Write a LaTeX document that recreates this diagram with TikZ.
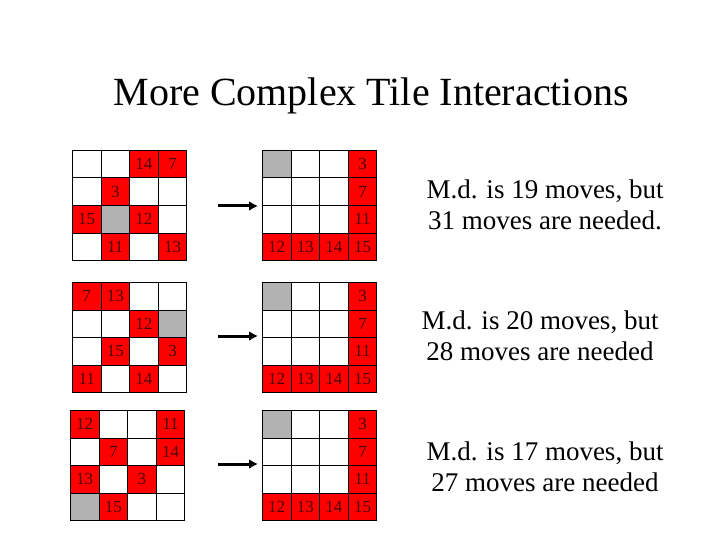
\documentclass[tikz,border=0pt]{standalone}
\usepackage{fontspec}
\setmainfont{Liberation Serif}
\begin{document}
\begin{tikzpicture}[x=1pt,y=-1pt,
  cell/.style={draw=black,line width=0.8pt,minimum width=28.6pt,minimum height=27.5pt,inner sep=0pt,anchor=north west,font=\fontsize{17}{17}\selectfont,text=black!70!red},
  rc/.style={cell,fill=red},
  gc/.style={cell,fill=black!30},
  wc/.style={cell,fill=white},
  arr/.style={line width=3pt,-{Latex[length=9pt,width=10pt]}},
  lbl/.style={font=\fontsize{27}{31}\selectfont,align=center}]
\usetikzlibrary{arrows.meta}
\useasboundingbox (0,0) rectangle (720,540);
\node[font=\fontsize{40}{40}\selectfont] (title) at (371,96) {More Complex Tile Interactions};
% grid macro via foreach: list of col/row/style/label
\newcommand{\mygrid}[4]{%
  \foreach \c/\r/\s/\t in {#4}{%
    \node[\s] (#1-\c-\r) at ({#2+\c*28.6},{#3+\r*27.5}) {\t};}}
\newcommand{\goalgrid}[3]{\mygrid{#1}{#2}{#3}{0/0/gc/,1/0/wc/,2/0/wc/,3/0/rc/3,0/1/wc/,1/1/wc/,2/1/wc/,3/1/rc/7,0/2/wc/,1/2/wc/,2/2/wc/,3/2/rc/11,0/3/rc/12,1/3/rc/13,2/3/rc/14,3/3/rc/15}}
\mygrid{a}{72}{150}{0/0/wc/,1/0/wc/,2/0/rc/14,3/0/rc/7,0/1/wc/,1/1/rc/3,2/1/wc/,3/1/wc/,0/2/rc/15,1/2/gc/,2/2/rc/12,3/2/wc/,0/3/wc/,1/3/rc/11,2/3/wc/,3/3/rc/13}
\mygrid{b}{72}{282}{0/0/rc/7,1/0/rc/13,2/0/wc/,3/0/wc/,0/1/wc/,1/1/wc/,2/1/rc/12,3/1/gc/,0/2/wc/,1/2/rc/15,2/2/wc/,3/2/rc/3,0/3/rc/11,1/3/wc/,2/3/rc/14,3/3/wc/}
\mygrid{c}{70}{410}{0/0/rc/12,1/0/wc/,2/0/wc/,3/0/rc/11,0/1/wc/,1/1/rc/7,2/1/wc/,3/1/rc/14,0/2/rc/13,1/2/wc/,2/2/rc/3,3/2/wc/,0/3/gc/,1/3/rc/15,2/3/wc/,3/3/wc/}
\goalgrid{ga}{262}{150}
\goalgrid{gb}{262}{282}
\goalgrid{gc}{262}{410}
\coordinate (s1) at (218,206); \coordinate (e1) at (258,206);
\coordinate (s2) at (218,336); \coordinate (e2) at (258,336);
\coordinate (s3) at (218,464); \coordinate (e3) at (258,464);
\draw[arr] (s1) -- (e1);
\draw[arr] (s2) -- (e2);
\draw[arr] (s3) -- (e3);
\node[lbl] (t1) at (545,205) {M.d. is 19 moves, but\\31 moves are needed.};
\node[lbl] (t2) at (540,336) {M.d. is 20 moves, but\\28 moves are needed};
\node[lbl] (t3) at (545,467) {M.d. is 17 moves, but\\27 moves are needed};
\end{tikzpicture}
\end{document}
